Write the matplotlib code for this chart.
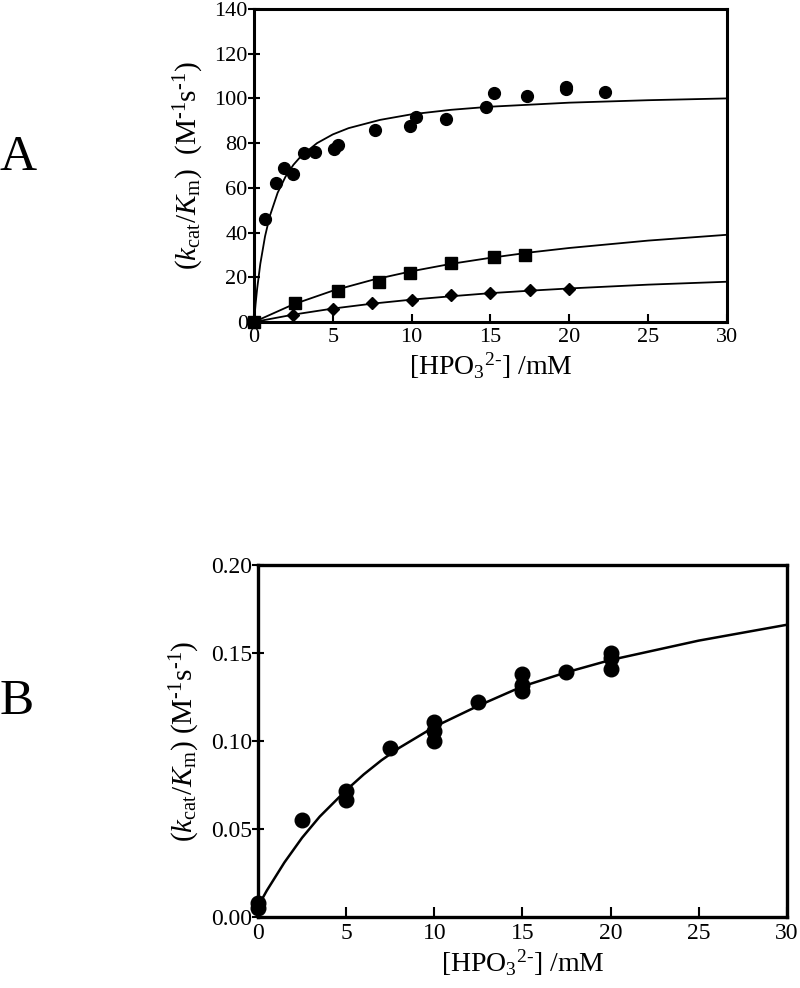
import matplotlib
matplotlib.use("Agg")
import matplotlib.pyplot as plt

plt.rcParams['font.family'] = ['Liberation Serif', 'DejaVu Serif']
plt.rcParams['mathtext.fontset'] = 'custom'
plt.rcParams['mathtext.rm'] = 'Liberation Serif'
plt.rcParams['mathtext.it'] = 'Liberation Serif:italic'
plt.rcParams['mathtext.bf'] = 'Liberation Serif:bold'

# ---------------- Panel A data ----------------
circ_x = [0, 0.7, 1.4, 1.9, 2.5, 3.2, 3.9, 5.1, 5.3, 7.7, 9.9, 10.3, 12.2, 14.7, 15.2, 17.3, 19.8, 19.8, 22.3]
circ_y = [0, 46, 62, 69, 66, 75.5, 76, 77.5, 79, 86, 87.5, 91.5, 91, 96, 102.5, 101, 104, 105, 103]
circ_fit_x = [0, 0.1, 0.2, 0.4, 0.7, 1, 1.5, 2, 2.5, 3, 4, 5, 6, 8, 10, 12.5, 15, 20, 25, 30]
circ_fit_y = [0, 8, 14.9, 26, 38.3, 47.3, 57.8, 65, 70.3, 74.3, 80, 83.9, 86.7, 90.4, 92.9, 94.9, 96.3, 98.1, 99.2, 100]

sq_x = [0, 2.6, 5.3, 7.9, 9.9, 12.5, 15.2, 17.2]
sq_y = [0, 8.3, 14, 17.8, 21.8, 26.5, 29, 29.8]
sq_fit_x = [0, 2.5, 5, 7.5, 10, 12.5, 15, 17.5, 20, 25, 30]
sq_fit_y = [0, 7.9, 14, 18.8, 22.7, 26, 28.7, 31.1, 33.1, 36.4, 39]

dia_x = [0, 2.5, 5, 7.5, 10, 12.5, 15, 17.5, 20]
dia_y = [0, 3.3, 5.9, 8.3, 10, 12, 13, 14.3, 14.8]
dia_fit_x = [0, 2.5, 5, 7.5, 10, 12.5, 15, 17.5, 20, 25, 30]
dia_fit_y = [0, 3.3, 6, 8.2, 10, 11.5, 12.9, 14, 15, 16.7, 18]

a_xticks = [0, 5, 10, 15, 20, 25, 30]
a_yticks = [0, 20, 40, 60, 80, 100, 120, 140]

# ---------------- Panel B data ----------------
b_x = [0, 0, 2.5, 5, 5, 7.5, 10, 10, 10, 12.5, 15, 15, 15, 17.5, 20, 20, 20]
b_y = [0.005, 0.008, 0.055, 0.0716, 0.0666, 0.096, 0.111, 0.1058, 0.1002, 0.122,
       0.138, 0.1316, 0.1285, 0.139, 0.150, 0.147, 0.141]
b_fit_x = [0, 0.5, 1, 1.5, 2, 2.5, 3, 3.5, 4, 5, 6, 7, 8, 9, 10, 12.5, 15, 17.5, 20, 25, 30]
b_fit_y = [0.006, 0.015, 0.023, 0.031, 0.038, 0.045, 0.051, 0.057, 0.062, 0.072, 0.081,
           0.089, 0.096, 0.102, 0.108, 0.120, 0.131, 0.139, 0.146, 0.157, 0.166]
b_xticks = [0, 5, 10, 15, 20, 25, 30]
b_yticks = [0.00, 0.05, 0.10, 0.15, 0.20]

xlabel = r'[HPO$_3$$^{2\text{-}}$] /mM'
ylabel_a = r'$(\mathit{k}_{\mathrm{cat}}/\mathit{K}_{\mathrm{m}})$  $(\mathrm{M}^{\text{-}1}\mathrm{s}^{\text{-}1})$'
ylabel_b = r'$(\mathit{k}_{\mathrm{cat}}/\mathit{K}_{\mathrm{m}})$ $(\mathrm{M}^{\text{-}1}\mathrm{s}^{\text{-}1})$'

fig = plt.figure(figsize=(8.0, 9.88), dpi=100)

axA = fig.add_axes([0.3175, 0.6741, 0.591, 0.3168])
axA.plot(circ_fit_x, circ_fit_y, color='black', lw=1.3)
axA.plot(sq_fit_x, sq_fit_y, color='black', lw=1.3)
axA.plot(dia_fit_x, dia_fit_y, color='black', lw=1.3)
axA.plot(circ_x, circ_y, 'o', color='black', ms=8.5, clip_on=False, zorder=5)
axA.plot(dia_x, dia_y, 'D', color='black', ms=6.5, clip_on=False, zorder=5)
axA.plot(sq_x, sq_y, 's', color='black', ms=8.5, clip_on=False, zorder=6)
axA.set_xlim(0, 30)
axA.set_ylim(0, 140)
axA.set_xticks(a_xticks)
axA.set_yticks(a_yticks)
axA.tick_params(axis='x', direction='in', length=6, width=1.5, labelsize=16, pad=4)
axA.tick_params(axis='y', direction='inout', length=9, width=1.5, labelsize=16, pad=0)
for s in axA.spines.values():
    s.set_linewidth(2.2)
axA.set_xlabel(xlabel, fontsize=20, labelpad=3)
axA.set_ylabel(ylabel_a, fontsize=21, labelpad=6)

axB = fig.add_axes([0.3225, 0.0719, 0.661, 0.3563])
axB.plot(b_fit_x, b_fit_y, color='black', lw=1.8)
axB.plot(b_x, b_y, 'o', color='black', ms=10.5, clip_on=False, zorder=5)
axB.set_xlim(0, 30)
axB.set_ylim(0, 0.20)
axB.set_xticks(b_xticks)
axB.set_yticks(b_yticks)
axB.set_yticklabels([f'{v:.2f}' for v in b_yticks])
axB.tick_params(axis='x', direction='in', length=7, width=1.5, labelsize=17, pad=4)
axB.tick_params(axis='y', direction='inout', length=9, width=1.5, labelsize=17, pad=0)
for s in axB.spines.values():
    s.set_linewidth(2.4)
axB.set_xlabel(xlabel, fontsize=20, labelpad=3)
axB.set_ylabel(ylabel_b, fontsize=21, labelpad=6)

fig.text(0.023, 1 - 158 / 988, 'A', fontsize=37, ha='center', va='center')
fig.text(0.021, 1 - 702 / 988, 'B', fontsize=37, ha='center', va='center')

fig.savefig('out.png', dpi=100)
